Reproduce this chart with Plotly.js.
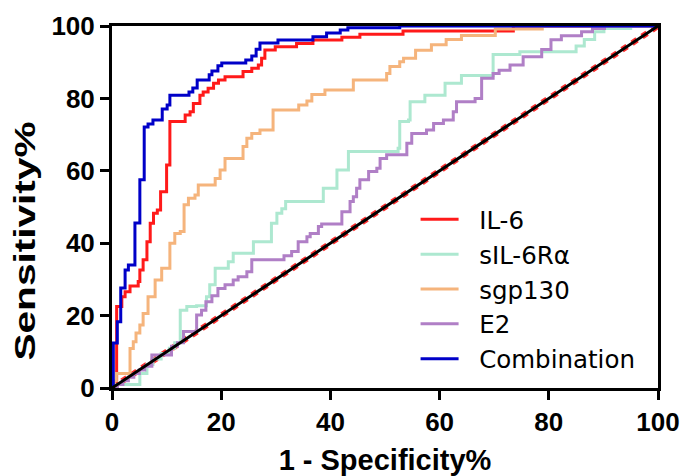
<!DOCTYPE html>
<html>
<head>
<meta charset="utf-8">
<script src="https://cdn.plot.ly/plotly-3.0.1.min.js"></script>
<style>html,body{margin:0;padding:0;background:#fff;}#chart{width:683px;height:476px;}</style>
</head>
<body>
<div id="chart"></div>
<script>
// ROC curves: x = 1 - Specificity%, y = Sensitivity% (step points, drawn with 'hv')
const seriesNames = ["IL-6", "sIL-6R\u03b1", "sgp130", "E2", "Combination"];

const il6X = [0, 0.85, 1.8, 2.4, 3.3, 4.8, 5.1, 5.7, 6.4, 7.0, 7.6, 8.3, 8.9, 10.0, 10.6, 13.4, 14.3, 14.9, 16.1, 16.7, 17.6, 18.6, 19.5, 20.7, 24.0, 25.6, 26.8, 27.4, 28.0, 29.9, 33.8, 36.8, 42.1, 45.4, 53.3, 73.5, 100];
const il6Y = [0, 22.5, 25.2, 26.6, 28.2, 29.4, 32.6, 35.4, 40.4, 45.5, 48.3, 49.2, 54.2, 61.6, 73.6, 75.4, 76.3, 78.6, 80.9, 81.8, 82.8, 84.2, 85.1, 86.0, 87.4, 88.3, 89.2, 91.1, 93.4, 94.3, 95.2, 96.1, 96.9, 97.7, 98.6, 100, 100];

const srX = [0, 0.5, 5.1, 6.4, 7.5, 9.0, 10.5, 11.5, 12.5, 13.7, 15.5, 17.3, 17.9, 18.9, 21.3, 22.2, 25.9, 29.2, 30.2, 31.1, 31.8, 38.7, 41.2, 43.3, 52.4, 52.7, 54.3, 54.6, 57.3, 61.0, 64.0, 69.8, 74.7, 85.0, 86.5, 88.4, 90.1, 95.0, 100];
const srY = [0, 1.0, 4.0, 6.5, 8.0, 9.5, 11.0, 12.5, 21.5, 22.5, 22.7, 25.2, 28.5, 33.1, 34.9, 37.2, 40.4, 45.5, 48.3, 49.5, 51.5, 55.2, 60.2, 65.3, 66.2, 73.6, 74.0, 79.1, 80.9, 84.2, 86.3, 92.1, 92.9, 94.5, 96.3, 98.4, 99.3, 100, 100];

const sgpX = [0, 0.4, 0.8, 3.3, 3.9, 4.4, 5.1, 5.7, 6.6, 7.9, 9.1, 10.6, 11.5, 12.5, 13.2, 14.0, 15.2, 15.8, 18.9, 19.8, 20.7, 24.0, 24.7, 25.6, 27.1, 29.5, 34.2, 35.7, 36.6, 39.0, 44.2, 50.3, 50.9, 52.7, 53.4, 55.6, 58.5, 61.2, 64.0, 70.2, 78.8, 100];
const sgpY = [0, 2.0, 4.0, 10.9, 12.8, 15.2, 17.4, 20.6, 25.2, 29.8, 33.1, 40.0, 42.7, 43.2, 50.6, 52.4, 53.3, 56.1, 57.9, 60.2, 63.4, 66.7, 69.0, 70.3, 71.3, 76.8, 78.2, 79.3, 81.1, 82.3, 85.1, 86.9, 88.8, 90.1, 91.1, 93.3, 94.8, 96.3, 97.4, 99.2, 100, 100];

const e2X = [0, 1, 2, 3, 4, 5, 6, 7.3, 10.9, 12.0, 13.1, 15.5, 16.4, 17.2, 18.3, 19.4, 20.7, 22.2, 23.1, 24.7, 25.6, 31.5, 32.9, 34.1, 35.7, 36.3, 37.8, 38.4, 42.1, 43.6, 44.2, 44.8, 45.4, 47.0, 48.5, 49.1, 50.3, 54.0, 54.9, 57.6, 58.9, 60.7, 62.5, 63.1, 66.5, 67.7, 69.8, 70.9, 72.9, 75.3, 78.7, 80.4, 82.3, 86.0, 88.0, 90.2, 100];
const e2Y = [0, 1, 2, 3, 4, 5, 6, 9.1, 11.5, 12.5, 15.6, 20.2, 21.5, 23.8, 25.5, 27.5, 28.5, 29.8, 30.7, 32.1, 35.4, 36.5, 37.7, 40.4, 41.8, 42.7, 44.6, 45.3, 48.7, 51.5, 52.8, 55.2, 57.5, 59.8, 60.7, 63.4, 64.4, 67.6, 70.3, 71.3, 73.1, 74.0, 76.3, 79.1, 80.0, 85.6, 86.9, 87.8, 89.2, 91.5, 93.5, 96.2, 97.3, 98.4, 99.3, 100, 100];

const combX = [0, 0.24, 0.97, 1.6, 2.4, 3.0, 4.2, 5.1, 5.9, 6.6, 7.5, 9.2, 10.1, 10.6, 14.1, 14.8, 15.6, 17.8, 18.3, 19.4, 20.1, 24.5, 25.6, 26.4, 27.1, 30.4, 36.8, 39.3, 41.8, 43.2, 52.7, 100];
const combY = [0, 12.4, 18.3, 27.6, 32.6, 34.0, 45.6, 57.5, 72.1, 72.9, 74.0, 77.1, 78.2, 80.9, 81.8, 82.9, 85.1, 86.5, 87.6, 89.0, 89.8, 90.6, 91.7, 93.6, 95.3, 96.1, 97.0, 98.1, 98.9, 99.5, 100, 100];

const refX = [0, 100];
const refY = [0, 100];

const colors = ["#ff1a1a", "#ade8d0", "#f5b47c", "#b07fc6", "#0000c8"];
const xs = [il6X, srX, sgpX, e2X, combX];
const ys = [il6Y, srY, sgpY, e2Y, combY];

const font = "Arial, 'Liberation Sans', sans-serif";
const pad = "\u00a0\u00a0";

const traces = [];
// reference diagonal: red dotted under black
traces.push({x: refX, y: refY, mode: "lines", showlegend: false, hoverinfo: "skip",
  line: {color: "#ff3030", width: 6, dash: "dot"}});
for (let i = 0; i < seriesNames.length; i++) {
  traces.push({x: xs[i], y: ys[i], name: pad + seriesNames[i], mode: "lines",
    line: {color: colors[i], width: 3, shape: "hv"}});
}
traces.push({x: refX, y: refY, mode: "lines", showlegend: false, hoverinfo: "skip",
  line: {color: "#000000", width: 3}});

const layout = {
  width: 683, height: 476,
  margin: {l: 112, r: 25, t: 26, b: 88},
  paper_bgcolor: "#fff", plot_bgcolor: "#fff",
  showlegend: true,
  legend: {x: 0.556, y: 0.528, xanchor: "left", yanchor: "top",
    font: {family: "'DejaVu Sans', sans-serif", size: 24.5, color: "#000"}, bgcolor: "rgba(0,0,0,0)",
    itemwidth: 38, tracegroupgap: 0},
  xaxis: {range: [0, 100], tickvals: [0, 20, 40, 60, 80, 100], ticktext: ["0","20","40","60","80","100"],
    showgrid: false, zeroline: false, showline: true, linecolor: "#000", linewidth: 3, mirror: true,
    ticks: "outside", ticklen: 9, tickwidth: 3, tickcolor: "#000",
    tickfont: {family: font, size: 26, color: "#000", weight: "bold"},
    title: {text: "1 - Specificity%", font: {family: font, size: 29, color: "#000", weight: "bold"}, standoff: 18},
    fixedrange: true},
  yaxis: {range: [0, 100], tickvals: [0, 20, 40, 60, 80, 100], ticktext: ["0","20","40","60","80","100"],
    showgrid: false, zeroline: false, showline: true, linecolor: "#000", linewidth: 3, mirror: true,
    ticks: "outside", ticklen: 9, tickwidth: 3, tickcolor: "#000",
    tickfont: {family: font, size: 26, color: "#000", weight: "bold"},
    title: {text: "Sensitivity%", font: {family: font, size: 29, color: "#000", weight: "bold"}, standoff: 8},
    fixedrange: true}
};

Plotly.newPlot("chart", traces, layout, {displayModeBar: false, staticPlot: true}).then(function (gd) {
  const t = gd.querySelector(".ytitle");
  if (t) {
    const x = +t.getAttribute("x"), y = +t.getAttribute("y");
    const tr = t.getAttribute("transform") || "";
    t.setAttribute("transform", "translate(0,34) " + tr + " translate(" + x + "," + y + ") scale(1.4,1) translate(" + (-x) + "," + (-y) + ")");
  }
});
</script>
</body>
</html>
